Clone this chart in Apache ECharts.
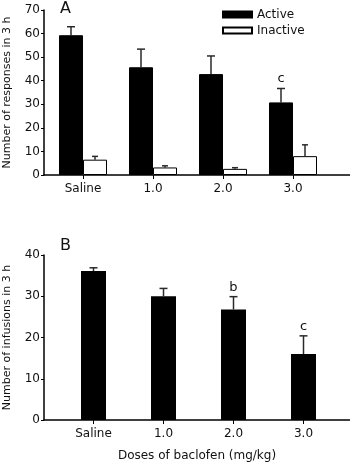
<!DOCTYPE html>
<html>
<head>
<meta charset="utf-8">
<script src="https://cdn.jsdelivr.net/npm/echarts@6/dist/echarts.min.js"></script>
<style>
  html, body { margin: 0; padding: 0; background: #fff; }
  #chart { width: 350px; height: 463px; }
</style>
</head>
<body>
<div id="chart"></div>
<script>
// data
const doses = ['Saline', '1.0', '2.0', '3.0']
const activeMean = [59.3, 45.7, 42.8, 30.8]
const activeSem = [3.6, 7.7, 7.7, 5.9]
const inactiveMean = [6.5, 3.2, 2.6, 8.0]
const inactiveSem = [1.4, 0.7, 0.5, 4.8]
const activeMarks = ['', '', '', 'c']
const infusionMean = [36.1, 30.0, 26.8, 16.0]
const infusionSem = [0.8, 1.9, 3.1, 4.4]
const infusionMarks = ['', '', 'b', 'c']
const responseTicks = [0, 70, 10]   // min, max, interval
const infusionTicks = [0, 40, 10]

const font = 'DejaVu Sans'
const barW = 24

// error bar with cap, optional letter on top
function errorSeries (name, gridIdx, mean, sem, marks, offset, cap) {
  return {
    name: name,
    type: 'custom',
    xAxisIndex: gridIdx,
    yAxisIndex: gridIdx,
    z: 1,
    data: mean.map((m, i) => [i, m, sem[i], marks[i]]),
    renderItem: function (params, api) {
      const base = api.coord([api.value(0), api.value(1)])
      const top = api.coord([api.value(0), api.value(1) + api.value(2)])
      const x = base[0] + offset
      const style = { stroke: '#2a2a2a', lineWidth: 1.5 }
      const children = [
        { type: 'line', shape: { x1: x, y1: base[1], x2: x, y2: top[1] }, style: style },
        { type: 'line', shape: { x1: x - cap, y1: top[1], x2: x + cap, y2: top[1] }, style: style }
      ]
      const mark = marks[params.dataIndex]
      if (mark) {
        children.push({
          type: 'text',
          style: {
            text: mark, x: x, y: top[1] - 3,
            align: 'center', verticalAlign: 'bottom',
            font: '13px "' + font + '"', fill: '#111'
          }
        })
      }
      return { type: 'group', children: children }
    }
  }
}

function frameAxes (ticks, yName, xName) {
  const x = {
    type: 'value',
    min: 0, max: 1,
    axisLine: { show: true, lineStyle: { color: '#000', width: 1.5 } },
    axisTick: { show: false }, axisLabel: { show: false }, splitLine: { show: false }
  }
  if (xName) {
    x.name = xName
    x.nameLocation = 'middle'
    x.nameGap = 30
    x.nameTextStyle = { fontFamily: font, fontSize: 12, color: '#111' }
  }
  const y = {
    type: 'value',
    min: ticks[0], max: ticks[1], interval: ticks[2],
    name: yName, nameLocation: 'middle', nameGap: 31,
    nameTextStyle: { fontFamily: font, fontSize: 11, color: '#111' },
    axisLine: { show: true, lineStyle: { color: '#000', width: 1.5 } },
    axisTick: { show: true, length: 3, lineStyle: { color: '#000' } },
    axisLabel: { fontFamily: font, fontSize: 12, color: '#111', margin: 4 },
    splitLine: { show: false }
  }
  return { x: x, y: y }
}

function dataAxes (ticks) {
  return {
    x: {
      type: 'category', data: doses,
      axisLine: { show: false },
      axisTick: { show: true, alignWithLabel: true, length: 4, lineStyle: { color: '#000' } },
      axisLabel: { fontFamily: font, fontSize: 12, color: '#111', margin: 8 }
    },
    y: { type: 'value', min: ticks[0], max: ticks[1], interval: ticks[2], show: false, splitLine: { show: false } }
  }
}

const chart = echarts.init(document.getElementById('chart'), null, { renderer: 'canvas' })

const fA = frameAxes(responseTicks, 'Number of responses in 3 h', null)
const dA = dataAxes(responseTicks)
const fB = frameAxes(infusionTicks, 'Number of infusions in 3 h', 'Doses of baclofen (mg/kg)')
const dB = dataAxes(infusionTicks)

const xAxes = [fA.x, dA.x, fB.x, dB.x].map((a, i) => Object.assign(a, { gridIndex: i }))
const yAxes = [fA.y, dA.y, fB.y, dB.y].map((a, i) => Object.assign(a, { gridIndex: i }))

const titleStyle = { fontFamily: font, fontSize: 16, fontWeight: 'normal', color: '#111' }

chart.setOption({
  backgroundColor: '#fff',
  animation: false,
  title: [
    { text: 'A', left: 60, top: 1, padding: 0, textStyle: titleStyle },
    { text: 'B', left: 60, top: 238, padding: 0, textStyle: titleStyle }
  ],
  legend: {
    data: ['Active', 'Inactive'],
    orient: 'vertical',
    left: 217, top: 3,
    itemWidth: 29, itemHeight: 6,
    itemGap: 3,
    icon: 'rect',
    textStyle: { fontFamily: font, fontSize: 12, color: '#111', lineHeight: 13 }
  },
  grid: [
    { left: 44, right: 0, top: 10, height: 165, outerBoundsMode: 'none' },
    { left: 48, right: 22, top: 10, height: 165, outerBoundsMode: 'none' },
    { left: 44, right: 0, top: 255, height: 165, outerBoundsMode: 'none' },
    { left: 58.5, right: 11.5, top: 255, height: 165, outerBoundsMode: 'none' }
  ],
  xAxis: xAxes,
  yAxis: yAxes,
  series: [
    {
      name: 'Active', type: 'bar', xAxisIndex: 1, yAxisIndex: 1,
      data: activeMean, barWidth: barW, barGap: '0%', z: 2,
      itemStyle: { color: '#000', borderColor: '#000', borderWidth: 1 }
    },
    {
      name: 'Inactive', type: 'bar', xAxisIndex: 1, yAxisIndex: 1,
      data: inactiveMean, barWidth: barW, barGap: '0%', z: 2,
      itemStyle: { color: '#fff', borderColor: '#000', borderWidth: 1 }
    },
    errorSeries('Active err', 1, activeMean, activeSem, activeMarks, -barW / 2, 4),
    errorSeries('Inactive err', 1, inactiveMean, inactiveSem, ['', '', '', ''], barW / 2, 3),
    {
      name: 'Infusions', type: 'bar', xAxisIndex: 3, yAxisIndex: 3,
      data: infusionMean, barWidth: 25, z: 2,
      itemStyle: { color: '#000' }
    },
    errorSeries('Infusions err', 3, infusionMean, infusionSem, infusionMarks, 0, 4)
  ]
})
</script>
</body>
</html>
